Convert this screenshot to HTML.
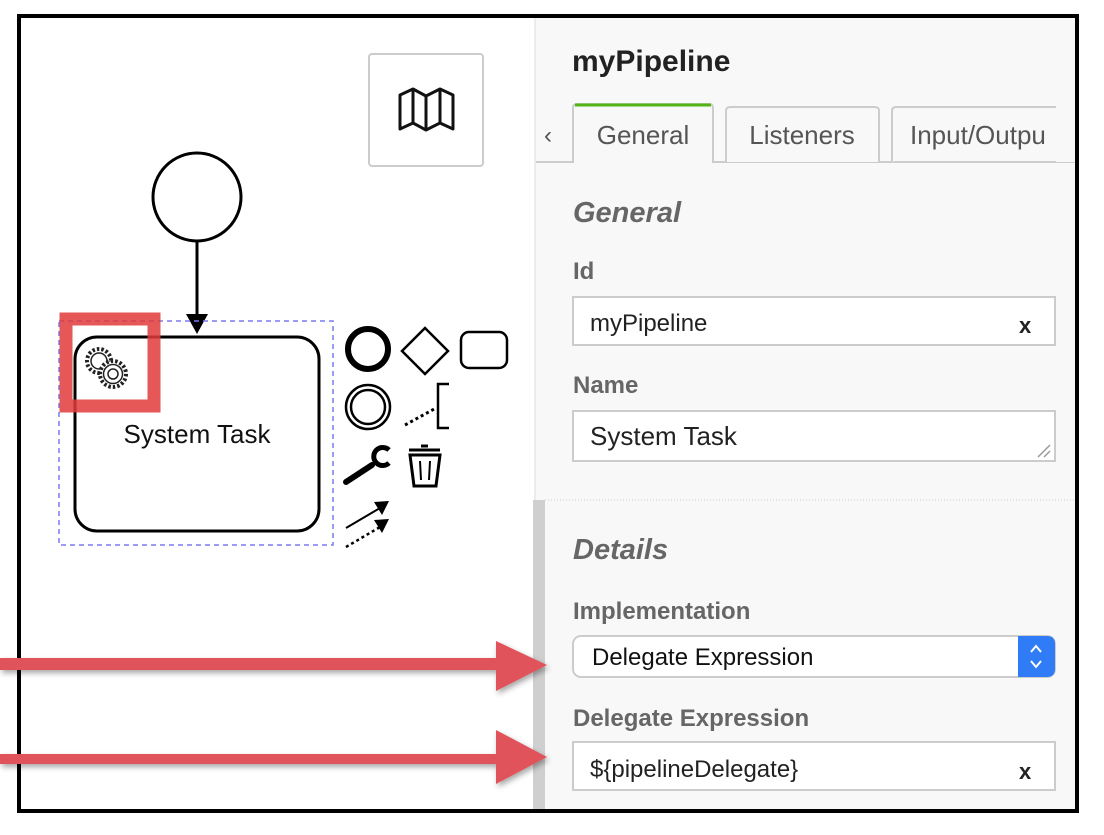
<!DOCTYPE html>
<html><head><meta charset="utf-8"><style>
body{margin:0;width:1104px;height:830px;background:#fff;overflow:hidden;font-family:"Liberation Sans",Arial,sans-serif}
</style></head><body>
<svg width="1104" height="830" viewBox="0 0 1104 830" xmlns="http://www.w3.org/2000/svg" font-family="Liberation Sans, Arial, sans-serif">
<defs><filter id="sh" x="-20%" y="-50%" width="140%" height="200%"><feDropShadow dx="2" dy="3" stdDeviation="3" flood-color="#000" flood-opacity="0.35"/></filter></defs>
<rect x="535" y="17" width="542" height="794" fill="#f8f8f8"/>
<line x1="535" y1="17" x2="535" y2="811" stroke="#ddd" stroke-width="1"/>
<rect x="533" y="500" width="12" height="311" fill="#cfcfcf"/>
<line x1="545" y1="500" x2="1077" y2="500" stroke="#ccc" stroke-dasharray="1 2"/>
<text x="572" y="71" font-size="30" font-weight="bold" fill="#222">myPipeline</text>
<line x1="536" y1="162" x2="1077" y2="162" stroke="#ccc" stroke-width="2"/>
<text x="544" y="143" font-size="24" fill="#555">‹</text>
<path d="M573 162 V108 Q573 104 577 104 H709 Q713 104 713 108 V162" fill="#f8f8f8" stroke="#ccc" stroke-width="2"/>
<path d="M575 105 H711" stroke="#52b415" stroke-width="3"/>
<rect x="574" y="150" width="138" height="14" fill="#f8f8f8"/>
<text x="643" y="144" font-size="26" fill="#555" text-anchor="middle">General</text>
<path d="M726 162 V111 Q726 107 730 107 H875 Q879 107 879 111 V162" fill="#f8f8f8" stroke="#ccc" stroke-width="2"/>
<text x="802" y="144" font-size="26" fill="#555" text-anchor="middle">Listeners</text>
<path d="M892 162 V111 Q892 107 896 107 H1060" fill="#f8f8f8" stroke="#ccc" stroke-width="2"/>
<text x="910" y="144" font-size="26" fill="#555">Input/Outpu</text>
<rect x="1056" y="106" width="21" height="56" fill="#f8f8f8"/>
<text x="573" y="222" font-size="29" font-weight="bold" font-style="italic" fill="#666">General</text>
<text x="573" y="279" font-size="24" font-weight="bold" fill="#666">Id</text>
<rect x="573" y="297" width="482" height="48" fill="#fff" stroke="#ccc" stroke-width="2"/>
<text x="590" y="331" font-size="24" fill="#222">myPipeline</text>
<text x="1019" y="333" font-size="22" font-weight="bold" fill="#222">x</text>
<text x="573" y="393" font-size="24" font-weight="bold" fill="#666">Name</text>
<rect x="573" y="411" width="482" height="50" fill="#fff" stroke="#ccc" stroke-width="2"/>
<text x="590" y="445" font-size="26" fill="#222">System Task</text>
<path d="M1038 457 L1050 445 M1044 457 L1050 451" stroke="#999" stroke-width="1.5"/>
<text x="573" y="559" font-size="29" font-weight="bold" font-style="italic" fill="#666">Details</text>
<text x="573" y="619" font-size="24" font-weight="bold" fill="#666">Implementation</text>
<rect x="573" y="636" width="482" height="41" rx="8" fill="#fff" stroke="#ccc" stroke-width="2"/>
<path d="M1018 636 H1047 Q1055 636 1055 644 V669 Q1055 677 1047 677 H1018 Z" fill="#2f7cf6"/>
<path d="M1031 652 L1036 646 L1041 652 M1031 661 L1036 667 L1041 661" stroke="#fff" stroke-width="2" fill="none"/>
<text x="592" y="665" font-size="24" fill="#111">Delegate Expression</text>
<text x="573" y="726" font-size="24" font-weight="bold" fill="#666">Delegate Expression</text>
<rect x="573" y="742" width="482" height="48" fill="#fff" stroke="#ccc" stroke-width="2"/>
<text x="590" y="777" font-size="24" fill="#222">${pipelineDelegate}</text>
<text x="1019" y="779" font-size="22" font-weight="bold" fill="#222">x</text>
<rect x="369" y="54" width="114" height="112" rx="3" fill="#fff" stroke="#ccc" stroke-width="2"/>
<path d="M400 95 L413 89 L426 96 L440 89 L453 95 V129 L440 123 L426 130 L413 123 L400 129 Z M413 89 V123 M426 96 V130 M440 89 V123" fill="none" stroke="#111" stroke-width="3" stroke-linejoin="round"/>
<circle cx="197" cy="197" r="44" fill="#fff" stroke="#000" stroke-width="3"/>
<line x1="197" y1="241" x2="197" y2="318" stroke="#000" stroke-width="3"/>
<path d="M186 314 L208 314 L197 334 Z" fill="#000"/>
<rect x="59" y="321" width="274" height="224" fill="none" stroke="#7b7bf0" stroke-width="1.5" stroke-dasharray="5 4"/>
<rect x="75" y="337" width="244" height="194" rx="22" fill="#fff" stroke="#000" stroke-width="3"/>
<text x="197" y="443" font-size="26" text-anchor="middle" fill="#111">System Task</text>
<g fill="#fff" stroke="#222" stroke-width="1.5">
<circle cx="99" cy="361" r="12" stroke-dasharray="2.5 2" stroke-width="4"/>
<circle cx="99" cy="361" r="8"/>
<circle cx="113" cy="374" r="13" stroke-dasharray="2.5 2" stroke-width="4"/>
<circle cx="113" cy="374" r="9.5"/>
<circle cx="113" cy="374" r="5"/>
</g>
<rect x="66" y="319" width="88" height="87" fill="none" stroke="#e23a3a" stroke-opacity="0.85" stroke-width="13"/>
<circle cx="368" cy="349" r="20" fill="none" stroke="#000" stroke-width="6"/>
<path d="M425 328 L448 351 L425 374 L402 351 Z" fill="none" stroke="#000" stroke-width="2.5"/>
<rect x="461" y="332" width="46" height="36" rx="8" fill="none" stroke="#000" stroke-width="2.5"/>
<circle cx="368" cy="407" r="22" fill="none" stroke="#000" stroke-width="2.5"/>
<circle cx="368" cy="407" r="17" fill="none" stroke="#000" stroke-width="2.5"/>
<path d="M405 425 L436 408" stroke="#000" stroke-width="3" stroke-dasharray="3 3"/>
<path d="M449 384 H438 V428 H449" fill="none" stroke="#000" stroke-width="2.5"/>
<path d="M346 482 L372 465" stroke="#000" stroke-width="6" stroke-linecap="round"/>
<path d="M389 463 A9 9 0 1 1 389 450" fill="none" stroke="#000" stroke-width="5"/>
<path d="M409 450 H440 M421 446 H428" stroke="#000" stroke-width="3"/>
<path d="M410 455 L414 486 H436 L440 455 Z" fill="none" stroke="#000" stroke-width="3"/>
<path d="M420 461 L421 480 M430 461 L429 480" stroke="#000" stroke-width="2"/>
<path d="M346 528 L380 508" stroke="#000" stroke-width="2"/>
<path d="M374 502 L389 501 L382 515 Z" fill="#000"/>
<path d="M346 547 L380 527" stroke="#000" stroke-width="2.5" stroke-dasharray="3 3"/>
<path d="M374 520 L389 519 L382 533 Z" fill="#000"/>
<rect x="19" y="16" width="1058" height="795" fill="none" stroke="#000" stroke-width="4"/>
<g fill="#e0525a" filter="url(#sh)">
<path d="M0 658 H496 V641 L547 665 L496 691 V670 H0 Z"/>
<path d="M0 754 H496 V730 L547 757 L496 784 V764 H0 Z"/>
</g>
</svg>
</body></html>
